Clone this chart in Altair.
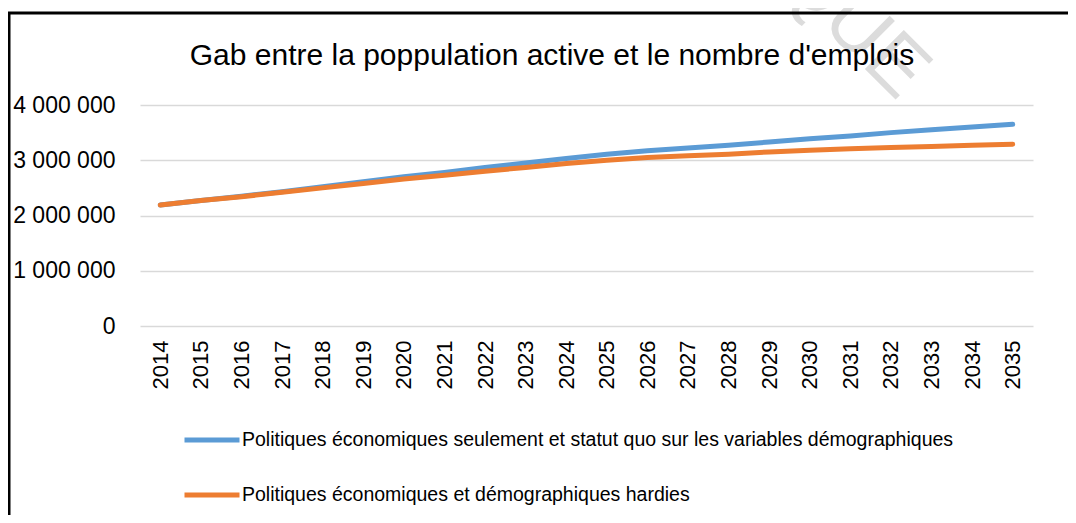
import altair as alt
import pandas as pd

years = ["2014", "2015", "2016", "2017", "2018", "2019", "2020", "2021", "2022", "2023", "2024",
         "2025", "2026", "2027", "2028", "2029", "2030", "2031", "2032", "2033", "2034", "2035"]
statu_quo = [2190000, 2270000, 2350000, 2430000, 2520000, 2610000, 2700000, 2780000, 2870000, 2950000, 3030000,
             3110000, 3170000, 3220000, 3270000, 3330000, 3390000, 3440000, 3500000, 3550000, 3600000, 3650000]
hardies = [2190000, 2270000, 2340000, 2420000, 2500000, 2580000, 2660000, 2730000, 2800000, 2870000, 2940000,
           3000000, 3050000, 3080000, 3110000, 3150000, 3180000, 3210000, 3230000, 3250000, 3270000, 3290000]
series_names = ["Politiques économiques seulement et statut quo sur les variables démographiques",
                "Politiques économiques et démographiques hardies"]
colors = ["#5b9bd5", "#ed7d31"]
y_ticks = [0, 1000000, 2000000, 3000000, 4000000]
title_text = "Gab entre la poppulation active et le nombre d'emplois"
watermark = "QUE"

rows = []
for i, yr in enumerate(years):
    rows.append({"annee": yr, "serie": series_names[0], "valeur": statu_quo[i]})
    rows.append({"annee": yr, "serie": series_names[1], "valeur": hardies[i]})
df = pd.DataFrame(rows)
one = pd.DataFrame({"k": [0]})

W, H = 893, 221
FONT = "Liberation Sans"

x_enc = alt.X("annee:O", sort=years, scale=alt.Scale(type="point", padding=0.5),
              axis=alt.Axis(title=None, labelAngle=270, labelAlign="right", labelBaseline="middle",
                            labelFontSize=22, labelFont=FONT, labelColor="#000", labelPadding=14,
                            ticks=False, domain=False, grid=False))
y_enc = alt.Y("valeur:Q", scale=alt.Scale(domain=[0, 4000000], nice=False),
              axis=alt.Axis(values=y_ticks, title=None,
                            labelExpr="replace(replace(format(datum.value, ','), ',', ' '), ',', ' ')",
                            labelFontSize=23, labelFont=FONT, labelColor="#000", labelPadding=25,
                            ticks=False, domain=False, grid=True, gridColor="#d9d9d9", gridWidth=1.5))
c_enc = alt.Color("serie:N", scale=alt.Scale(domain=series_names, range=colors),
                  legend=alt.Legend(title=None, orient="none", legendX=42, legendY=305,
                                    direction="vertical", symbolType="stroke", symbolSize=3025,
                                    symbolStrokeWidth=5, labelFontSize=19.5, labelFont=FONT,
                                    labelColor="#000", labelOffset=0, rowPadding=15, labelLimit=1000))

base = alt.Chart(df).mark_line(strokeWidth=5, strokeCap="round", strokeJoin="round")
blue = base.transform_filter(alt.datum.serie == series_names[0]).encode(x=x_enc, y=y_enc, color=c_enc)
orange = base.transform_filter(alt.datum.serie == series_names[1]).encode(x=x_enc, y=y_enc, color=c_enc)

wm = alt.Chart(one).mark_text(text=watermark, angle=45, fontSize=80, color="#dcdcdc", align="right",
                              baseline="alphabetic", font=FONT).encode(x=alt.value(758), y=alt.value(-3))

title = alt.Chart(one).mark_text(text=title_text, fontSize=30, font=FONT, color="#000", align="center",
                                 baseline="alphabetic").encode(x=alt.value(412), y=alt.value(-40))

frame = alt.Chart(one).mark_rect(fillOpacity=0, stroke="#000", strokeWidth=3).encode(
    x=alt.value(-131), x2=alt.value(W + 200), y=alt.value(-92), y2=alt.value(H + 300))

chart = alt.layer(wm, title, blue, orange, frame).properties(
    width=W, height=H,
    autosize=alt.AutoSizeParams(type="none"),
    padding={"left": 132, "top": 97, "right": 35, "bottom": 189},
    background="white",
).configure_view(strokeWidth=0)

chart.save("out.html", embed_options={"renderer": "svg", "actions": False})
